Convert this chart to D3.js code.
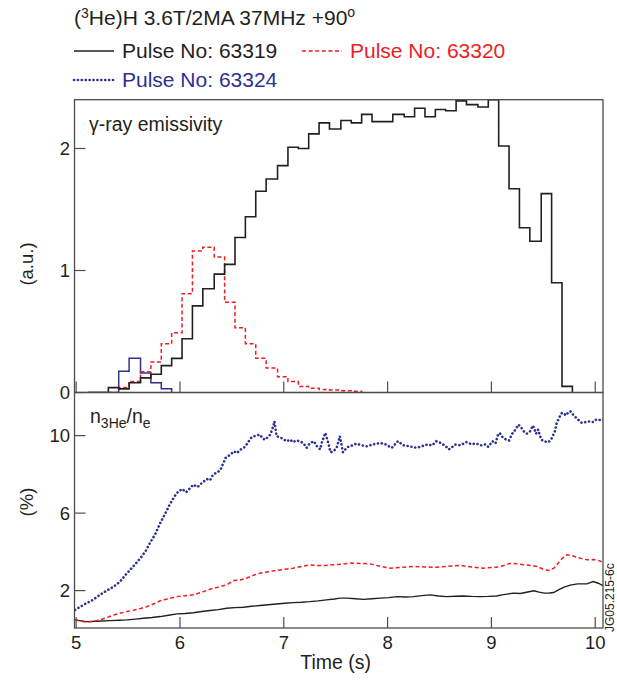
<!DOCTYPE html>
<html>
<head>
<meta charset="utf-8">
<script src="https://cdn.jsdelivr.net/npm/d3@7"></script>
<style>
  body { margin: 0; background: #fff; }
  svg text { font-family: "Liberation Sans", Arial, Helvetica, sans-serif; fill: #231f20; }
</style>
</head>
<body>
<svg id="chart" width="617" height="684"></svg>
<script>
// gamma-ray histogram: left edges of the time bins (s), one more edge than values
var binEdges = [5.11, 5.21, 5.31, 5.41, 5.51, 5.62, 5.72, 5.82, 5.92, 6.02, 6.12, 6.22, 6.33, 6.43,
    6.53, 6.63, 6.73, 6.83, 6.94, 7.04, 7.14, 7.24, 7.34, 7.44, 7.55, 7.65, 7.75, 7.85, 7.95, 8.05,
    8.16, 8.26, 8.36, 8.46, 8.56, 8.66, 8.76, 8.87, 8.97, 9.07, 9.17, 9.27, 9.37, 9.48, 9.58, 9.68, 9.78];

var gamma63319 = [0, 0, 0.04, 0.03, 0.08, 0.12, 0.15, 0.22, 0.28, 0.44, 0.71, 0.85, 0.97, 1.05,
    1.27, 1.44, 1.65, 1.75, 1.86, 2.01, 2.00, 2.12, 2.21, 2.16, 2.23, 2.21, 2.28, 2.22, 2.22, 2.28,
    2.26, 2.33, 2.26, 2.32, 2.31, 2.39, 2.36, 2.34, 2.40, 2.02, 1.67, 1.35, 1.24, 1.63, 0.90, 0.05];
var gamma63320 = [null, null, 0, 0.04, 0.09, 0.17, 0.25, 0.40, 0.49, 0.81, 1.16, 1.19, 1.11, 0.74,
    0.53, 0.40, 0.28, 0.20, 0.13, 0.09, 0.05, 0.035, 0.025, 0.02, 0.015, 0.01];
var gamma63324 = [0, 0, 0, 0.175, 0.28, 0.16, 0.08, 0.03];

// n3He/ne (%) traces
var t63324 = [4.99, 5.05, 5.10, 5.16, 5.22, 5.28, 5.36, 5.42, 5.49, 5.55, 5.62, 5.67, 5.71, 5.76, 5.81,
    5.86, 5.90, 5.94, 5.97, 6.02, 6.06, 6.10, 6.13, 6.17, 6.22, 6.26, 6.29, 6.32, 6.36, 6.39, 6.44,
    6.48, 6.52, 6.55, 6.58, 6.62, 6.64, 6.69, 6.73, 6.77, 6.80, 6.82, 6.85, 6.87, 6.90, 6.91, 6.93,
    6.97, 7.00, 7.03, 7.06, 7.09, 7.12, 7.16, 7.19, 7.22, 7.25, 7.29, 7.32, 7.35, 7.37, 7.40, 7.43,
    7.45, 7.48, 7.51, 7.54, 7.57, 7.61, 7.66, 7.70, 7.75, 7.80, 7.86, 7.93, 7.98, 8.04, 8.10, 8.15,
    8.21, 8.28, 8.33, 8.38, 8.43, 8.47, 8.52, 8.56, 8.59, 8.62, 8.65, 8.70, 8.76, 8.81, 8.85, 8.90,
    8.94, 8.97, 9.01, 9.04, 9.06, 9.08, 9.11, 9.14, 9.17, 9.20, 9.23, 9.26, 9.29, 9.31, 9.34, 9.37,
    9.40, 9.43, 9.45, 9.48, 9.51, 9.55, 9.58, 9.61, 9.63, 9.66, 9.68, 9.72, 9.74, 9.76, 9.80, 9.84,
    9.87, 9.91, 9.95, 9.98, 10.01, 10.05, 10.08];
var n63324 = [1.0, 1.2, 1.35, 1.52, 1.75, 1.95, 2.2, 2.45, 2.9, 3.25, 3.68, 4.05, 4.45, 4.9, 5.49,
    6.0, 6.43, 6.8, 7.04, 7.25, 7.08, 7.3, 7.47, 7.35, 7.6, 7.76, 7.7, 8.0, 8.1, 8.24, 8.85,
    9.0, 9.19, 9.1, 9.27, 9.4, 9.53, 9.92, 10.0, 10.05, 9.85, 9.79, 9.95, 10.05, 10.5, 10.74, 9.97,
    9.9, 9.8, 9.71, 9.8, 9.66, 9.75, 9.7, 9.6, 9.37, 9.6, 9.71, 9.45, 9.29, 9.7, 10.14, 9.6,
    9.14, 9.2, 9.37, 9.97, 9.14, 9.4, 9.5, 9.59, 9.5, 9.45, 9.55, 9.62, 9.55, 9.37, 9.71, 9.5,
    9.45, 9.37, 9.45, 9.54, 9.5, 9.71, 9.6, 9.45, 9.29, 9.4, 9.54, 9.5, 9.66, 9.55, 9.6, 9.5,
    9.55, 9.42, 9.71, 9.6, 10.0, 10.14, 9.9, 9.8, 9.75, 10.1, 10.3, 10.57, 10.4, 10.23, 10.1, 10.2,
    10.52, 10.1, 10.31, 9.8, 9.7, 9.66, 9.85, 10.2, 10.66, 11.0, 11.18, 11.05, 11.2, 11.26, 11.0, 10.8,
    10.66, 10.7, 10.74, 10.7, 10.83, 10.8, 10.83];

var t63320 = [4.99, 5.05, 5.10, 5.17, 5.23, 5.30, 5.36, 5.43, 5.49, 5.56, 5.62, 5.68, 5.75, 5.81, 5.89,
    5.97, 6.05, 6.13, 6.21, 6.29, 6.37, 6.45, 6.52, 6.58, 6.64, 6.70, 6.77, 6.85, 6.93, 7.01, 7.09,
    7.17, 7.25, 7.33, 7.41, 7.48, 7.56, 7.64, 7.74, 7.83, 7.93, 8.02, 8.13, 8.25, 8.36, 8.47, 8.58,
    8.70, 8.81, 8.92, 9.05, 9.12, 9.19, 9.25, 9.31, 9.38, 9.44, 9.50, 9.55, 9.60, 9.63, 9.68, 9.73,
    9.78, 9.82, 9.87, 9.92, 9.97, 10.01, 10.05, 10.08];
var n63320 = [0.49, 0.42, 0.37, 0.42, 0.49, 0.62, 0.74, 0.84, 0.92, 1.0, 1.08, 1.17, 1.32, 1.48, 1.58,
    1.69, 1.74, 1.78, 1.92, 2.07, 2.18, 2.30, 2.52, 2.55, 2.64, 2.78, 2.90, 2.97, 3.04, 3.10, 3.16,
    3.25, 3.33, 3.30, 3.30, 3.33, 3.36, 3.42, 3.40, 3.38, 3.25, 3.16, 3.20, 3.25, 3.22, 3.20, 3.26,
    3.30, 3.22, 3.16, 3.21, 3.30, 3.42, 3.38, 3.33, 3.30, 3.25, 3.10, 3.04, 3.15, 3.33, 3.65, 3.85,
    3.80, 3.73, 3.65, 3.59, 3.60, 3.59, 3.52, 3.42];

var t63319 = [4.99, 5.05, 5.10, 5.20, 5.33, 5.41, 5.49, 5.57, 5.65, 5.73, 5.81, 5.89, 5.97, 6.05, 6.13,
    6.21, 6.29, 6.37, 6.45, 6.53, 6.61, 6.69, 6.77, 6.85, 6.93, 7.01, 7.09, 7.17, 7.25, 7.33, 7.41,
    7.49, 7.54, 7.61, 7.69, 7.77, 7.85, 7.93, 8.01, 8.09, 8.17, 8.25, 8.33, 8.41, 8.49, 8.57, 8.65,
    8.73, 8.81, 8.89, 8.97, 9.05, 9.10, 9.15, 9.21, 9.28, 9.35, 9.41, 9.46, 9.51, 9.56, 9.60, 9.65,
    9.70, 9.76, 9.83, 9.88, 9.92, 9.98, 10.03, 10.08];
var n63319 = [0.49, 0.44, 0.40, 0.42, 0.45, 0.47, 0.49, 0.53, 0.57, 0.61, 0.66, 0.73, 0.80, 0.82, 0.86,
    0.92, 0.97, 1.02, 1.09, 1.12, 1.14, 1.19, 1.23, 1.27, 1.31, 1.35, 1.38, 1.40, 1.43, 1.47, 1.52,
    1.57, 1.61, 1.61, 1.58, 1.55, 1.58, 1.61, 1.64, 1.69, 1.67, 1.69, 1.74, 1.78, 1.72, 1.69, 1.71,
    1.72, 1.70, 1.69, 1.70, 1.72, 1.78, 1.82, 1.87, 1.85, 1.93, 1.99, 1.92, 1.87, 1.88, 1.90, 2.05,
    2.18, 2.28, 2.35, 2.35, 2.35, 2.47, 2.38, 2.24];

var timeTicks = [5, 6, 7, 8, 9, 10];
var gammaTicks = [0, 1, 2];
var ratioTicks = [2, 6, 10];

var RED = "#ee1d25", BLUE = "#2e3192", BLACK = "#231f20";

var svg = d3.select("#chart");

var left = 74.5, right = 603;
var x = d3.scaleLinear().domain([4.984, 10.075]).range([left, right]);
var yTop = d3.scaleLinear().domain([0, 2.4]).range([392.5, 99.7]);
var yBot = d3.scaleLinear().domain([0.07, 12.2]).range([628, 393]);

var defs = svg.append("defs");
defs.append("clipPath").attr("id", "clipTop")
    .append("rect").attr("x", left).attr("y", 99).attr("width", right - left).attr("height", 294);
defs.append("clipPath").attr("id", "clipBot")
    .append("rect").attr("x", left).attr("y", 393).attr("width", right - left).attr("height", 235);

// ---------- header / legend ----------
var title = svg.append("text").attr("x", 74).attr("y", 25).style("font-size", "21px");
title.append("tspan").text("(");
title.append("tspan").attr("dy", -7).style("font-size", "14px").text("3");
title.append("tspan").attr("dy", 7).text("He)H 3.6T/2MA 37MHz +90");
title.append("tspan").attr("dy", -8).style("font-size", "14px").text("o");

var legend = [
    {label: "Pulse No: 63319", color: BLACK, dash: null, x: 74, y: 51},
    {label: "Pulse No: 63320", color: RED, dash: "4,2.6", x: 302, y: 51},
    {label: "Pulse No: 63324", color: BLUE, dash: "0.1,3.8", x: 74, y: 80}
];
legend.forEach(function(d) {
    var dotted = d.dash && d.dash[0] === "0";
    svg.append("line")
        .attr("x1", d.x).attr("x2", d.x + 40)
        .attr("y1", d.y).attr("y2", d.y)
        .style("stroke", d.color)
        .style("stroke-width", dotted ? 2.6 : 1.6)
        .style("stroke-linecap", dotted ? "round" : "butt")
        .style("stroke-dasharray", d.dash);
    svg.append("text")
        .attr("x", d.x + 48).attr("y", d.y + 7)
        .style("font-size", "21px")
        .style("fill", d.color)
        .text(d.label);
});

// ---------- top panel: gamma-ray emissivity ----------
function stepPoints(vals) {
    var pts = [];
    var last = 0;
    vals.forEach(function(v, i) {
        if (v === null) return;
        if (!pts.length) pts.push([binEdges[i], 0]);
        pts.push([binEdges[i], v]);
        last = i;
    });
    pts.push([binEdges[last + 1], 0]);
    return pts;
}

var stepLine = d3.line()
    .curve(d3.curveStepAfter)
    .x(function(d) { return x(d[0]); })
    .y(function(d) { return yTop(d[1]); });

var topG = svg.append("g").attr("clip-path", "url(#clipTop)");

topG.append("path").datum(stepPoints(gamma63324))
    .attr("d", stepLine)
    .style("fill", "none").style("stroke", BLUE).style("stroke-width", 1.5);
topG.append("path").datum(stepPoints(gamma63320))
    .attr("d", stepLine)
    .style("fill", "none").style("stroke", RED).style("stroke-width", 1.5)
    .style("stroke-dasharray", "4,2.6");
topG.append("path").datum(stepPoints(gamma63319))
    .attr("d", stepLine)
    .style("fill", "none").style("stroke", BLACK).style("stroke-width", 1.6);

// ---------- bottom panel: n3He/ne ----------
var trace = d3.line()
    .x(function(d) { return x(d[0]); })
    .y(function(d) { return yBot(d[1]); });

function pairs(ts, vs) {
    return ts.map(function(t, i) { return [t, vs[i]]; });
}

var botG = svg.append("g").attr("clip-path", "url(#clipBot)");

botG.append("path").datum(pairs(t63319, n63319))
    .attr("d", trace)
    .style("fill", "none").style("stroke", BLACK).style("stroke-width", 1.4);
botG.append("path").datum(pairs(t63320, n63320))
    .attr("d", trace)
    .style("fill", "none").style("stroke", RED).style("stroke-width", 1.5)
    .style("stroke-dasharray", "4,2.6");
botG.append("path").datum(pairs(t63324, n63324))
    .attr("d", trace)
    .style("fill", "none").style("stroke", BLUE).style("stroke-width", 2.6)
    .style("stroke-linecap", "round")
    .style("stroke-dasharray", "0.1,3.8");

// ---------- axes and frames ----------
var frameColor = "#4d4d4f";

function panelAxes(y, ticks, yTopPx, yBotPx) {
    var g = svg.append("g");
    g.append("rect")
        .attr("x", left).attr("y", yTopPx)
        .attr("width", right - left).attr("height", yBotPx - yTopPx)
        .style("fill", "none").style("stroke", frameColor).style("stroke-width", 1.3);

    // y ticks point inwards
    g.selectAll(".yt").data(ticks).enter().append("line")
        .attr("x1", left).attr("x2", left + 11)
        .attr("y1", function(d) { return y(d); })
        .attr("y2", function(d) { return y(d); })
        .style("stroke", frameColor).style("stroke-width", 1.2);
    g.selectAll(".yl").data(ticks).enter().append("text")
        .attr("x", 70).attr("y", function(d) { return y(d); })
        .attr("dy", "0.36em")
        .attr("text-anchor", "end")
        .style("font-size", "18.5px")
        .text(function(d) { return d; });

    // x ticks point upwards from the bottom edge
    g.selectAll(".xt").data(timeTicks).enter().append("line")
        .attr("x1", function(d) { return x(d); })
        .attr("x2", function(d) { return x(d); })
        .attr("y1", yBotPx).attr("y2", yBotPx - 11)
        .style("stroke", frameColor).style("stroke-width", 1.2);
}

panelAxes(yTop, gammaTicks, 99.7, 392.5);
panelAxes(yBot, ratioTicks, 392.5, 628);

svg.selectAll(".xl").data(timeTicks).enter().append("text")
    .attr("x", function(d) { return x(d); })
    .attr("y", 649)
    .attr("text-anchor", "middle")
    .style("font-size", "18.5px")
    .text(function(d) { return d; });

svg.append("text")
    .attr("x", x(7.5)).attr("y", 669)
    .attr("text-anchor", "middle")
    .style("font-size", "19.5px")
    .text("Time (s)");

// y axis titles
svg.append("text")
    .attr("transform", "translate(33," + 264 + ") rotate(-90)")
    .attr("text-anchor", "middle")
    .style("font-size", "18.5px")
    .text("(a.u.)");
svg.append("text")
    .attr("transform", "translate(33," + 502 + ") rotate(-90)")
    .attr("text-anchor", "middle")
    .style("font-size", "18.5px")
    .text("(%)");

// panel labels
svg.append("text")
    .attr("x", 89).attr("y", 131)
    .style("font-size", "19.5px")
    .text("\u03b3-ray emissivity");

var nlab = svg.append("text").attr("x", 90).attr("y", 423).style("font-size", "19.5px");
nlab.append("tspan").text("n");
nlab.append("tspan").attr("dy", 5).style("font-size", "14px").text("3He");
nlab.append("tspan").attr("dy", -5).text("/n");
nlab.append("tspan").attr("dy", 5).style("font-size", "14px").text("e");

// figure id
svg.append("text")
    .attr("transform", "translate(614,632) rotate(-90)")
    .style("font-size", "12px")
    .text("JG05.215-6c");
</script>
</body>
</html>
